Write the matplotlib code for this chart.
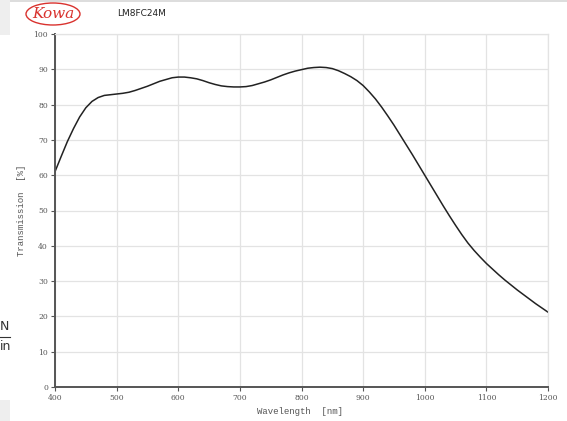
import matplotlib.pyplot as plt
from matplotlib.patches import Ellipse, Rectangle

# wavelength [nm] and transmission [%]
wavelength = list(range(400, 1201, 10))
transmission = [61.0, 65.3, 69.5, 73.2, 76.5, 79.1, 80.9, 82.0, 82.6, 82.8,
                83.0, 83.2, 83.5, 84.0, 84.6, 85.2, 85.9, 86.6, 87.1, 87.6,
                87.8, 87.8, 87.6, 87.3, 86.8, 86.2, 85.7, 85.3, 85.1, 85.0,
                85.0, 85.1, 85.4, 85.9, 86.4, 87.0, 87.7, 88.4, 89.0, 89.5,
                89.9, 90.3, 90.5, 90.6, 90.5, 90.2, 89.6, 88.8, 87.9, 86.8,
                85.4, 83.6, 81.6, 79.3, 76.8, 74.2, 71.4, 68.6, 65.8, 62.9,
                60.0, 57.1, 54.2, 51.3, 48.5, 45.8, 43.2, 40.8, 38.7, 36.8,
                35.0, 33.4, 31.8, 30.3, 28.9, 27.5, 26.2, 24.9, 23.6, 22.4,
                21.2]
x_ticks = list(range(400, 1201, 100))
y_ticks = list(range(0, 101, 10))

W, H = 567, 421
fig = plt.figure(figsize=(W / 100, H / 100), dpi=100)

# plot area in pixel coords: x 55..548, y 34..387
ax = fig.add_axes([55 / W, 1 - 387 / H, (548 - 55) / W, (387 - 34) / H])
ax.plot(wavelength, transmission, color="#222222", lw=1.1)
ax.set_xlim(400, 1200)
ax.set_ylim(0, 100)
ax.set_xticks(x_ticks)
ax.set_yticks(y_ticks)
ax.grid(True, color="#e3e3e3", lw=0.9)
ax.set_axisbelow(True)

for side in ("top", "right"):
    ax.spines[side].set_color("#e3e3e3")
    ax.spines[side].set_linewidth(0.9)
for side in ("left", "bottom"):
    ax.spines[side].set_color("#555555")
    ax.spines[side].set_linewidth(1.4)

ax.tick_params(length=3, width=0.8, color="#555555", labelsize=5.5,
               labelcolor="#555555", pad=2)
for lab in ax.get_xticklabels() + ax.get_yticklabels():
    lab.set_family("DejaVu Serif")

# axis titles placed where the reference has them
fig.text(300 / W, 1 - 411 / H, "Wavelength  [nm]", ha="center", va="center",
         fontsize=6.5, family="Liberation Mono", color="#555555")
fig.text(22 / W, 1 - 210 / H, "Transmission  [%]", ha="center", va="center",
         rotation=90, fontsize=6.5, family="Liberation Mono", color="#555555")

# header: logo + lens name
fig.patches.append(Ellipse((53 / W, 1 - 14 / H), 54 / W, 22 / H,
                           transform=fig.transFigure, fill=False,
                           ec="#d9322e", lw=1.0))
fig.text(53 / W, 1 - 14 / H, "Kowa", ha="center", va="center", fontsize=11,
         color="#d9322e", style="italic", family="DejaVu Serif")
fig.text(117 / W, 1 - 13 / H, "LM8FC24M", ha="left", va="center",
         fontsize=6.5, color="#222222", family="DejaVu Sans")

# page leftovers around the chart
fig.patches.append(Rectangle((0, 1 - 35 / H), 10 / W, 35 / H,
                             transform=fig.transFigure, color="#eeeeee", lw=0))
fig.patches.append(Rectangle((0, 0), 10 / W, 21 / H,
                             transform=fig.transFigure, color="#eeeeee", lw=0))
fig.patches.append(Rectangle((10 / W, 1 - 2 / H), 1, 2 / H,
                             transform=fig.transFigure, color="#dddddd", lw=0))
fig.text(0, 1 - 327 / H, "N", ha="left", va="center", fontsize=9,
         color="#333333", family="DejaVu Sans")
fig.lines.append(plt.Line2D([0, 10 / W], [1 - 337 / H, 1 - 337 / H],
                            transform=fig.transFigure, color="#333333", lw=0.8))
fig.text(0, 1 - 346 / H, "in", ha="left", va="center", fontsize=9,
         color="#333333", family="DejaVu Sans")

fig.savefig("out.png", dpi=100)
